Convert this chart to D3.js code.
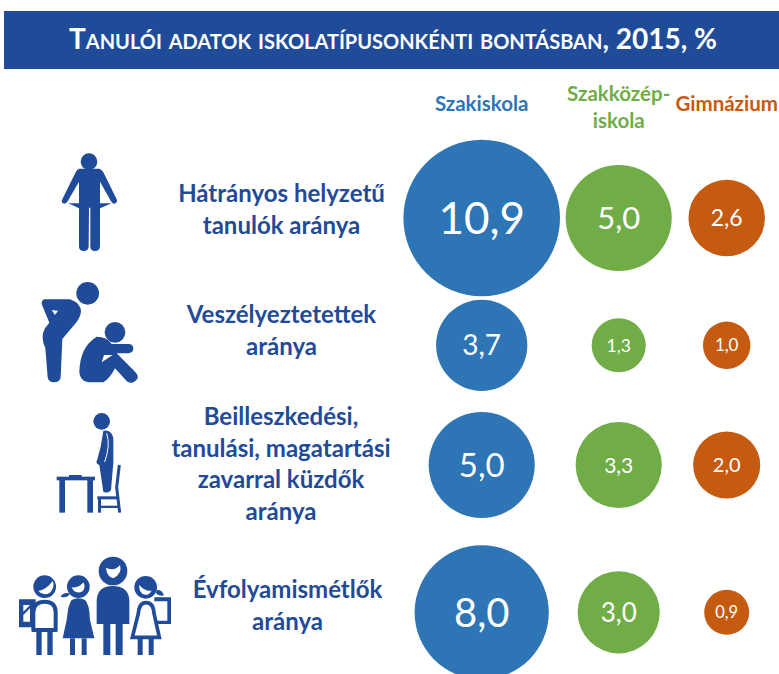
<!DOCTYPE html>
<html lang="hu">
<head>
    <meta charset="UTF-8">
    <title>Tanulói adatok</title>
    <style>
        body{ margin:0; background:#fff;}
        svg{ display:block;}
        text{ font-family:Lato, "Open Sans", sans-serif;}
    </style>
</head>
<body>
<script src="https://d3js.org/d3.v7.min.js"></script>
<script>

var titleText = "Tanulói adatok iskolatípusonkénti bontásban, 2015, %";
var schools = ["Szakiskola", "Szakközépiskola", "Gimnázium"];
var rows = ["hatranyos", "veszelyeztetett", "zavar", "evfolyam"];

var szakiskola = [10.9, 3.7, 5.0, 8.0];
var szakkozep = [5.0, 1.3, 3.3, 3.0];
var gimnazium = [2.6, 1.0, 2.0, 0.9];
var seriesValues = [szakiskola, szakkozep, gimnazium];

var schoolLabels = [["Szakiskola"], ["Szakközép-", "iskola"], ["Gimnázium"]];
var rowLabels = [
    ["Hátrányos helyzetű", "tanulók aránya"],
    ["Veszélyeztetettek", "aránya"],
    ["Beilleszkedési,", "tanulási, magatartási", "zavarral küzdők", "aránya"],
    ["Évfolyamismétlők", "aránya"]
];

// font size of each number inside the bubbles, same order as the series
var valueSizes = [[44, 28, 33, 40], [31, 17.5, 21, 26], [23, 17, 20, 16.5]];

var blue = "#1f4b99";

var svg = d3.select("body").append("svg")
        .attr("width", 779)
        .attr("height", 674);

var x = d3.scaleOrdinal().domain(schools).range([481.7, 618.7, 726.7]);
var y = d3.scaleOrdinal().domain(rows).range([218, 345.3, 465, 612.3]);
var r = d3.scaleSqrt().domain([0, 10.9]).range([0, 78.3]);
var color = d3.scaleOrdinal().domain(schools).range(["#2e75b6", "#70ad47", "#c55a11"]);

// title bar
svg.append("rect").attr("x", 4).attr("y", 11).attr("width", 775).attr("height", 58).attr("fill", blue);
svg.append("text")
    .attr("x", 393).attr("y", 49)
    .attr("text-anchor", "middle")
    .attr("fill", "#fff")
    .style("font-size", "28px")
    .style("font-weight", 700)
    .style("font-variant", "small-caps")
    .text(titleText);

// column headers
var headerBase = [111, 101, 111];
schools.forEach(function(s, i){
    svg.append("g").selectAll("text")
        .data(schoolLabels[i])
        .enter().append("text")
        .attr("x", x(s))
        .attr("y", function(d, j){ return headerBase[i] + j * 27; })
        .attr("text-anchor", "middle")
        .attr("fill", color(s))
        .style("font-size", "20.5px")
        .style("font-weight", 700)
        .text(function(d){ return d; });
});

// row labels
var rowBase = [202, 323, 425, 598];
var rowCenter = [281.5, 281.5, 281, 287.5];
rows.forEach(function(row, i){
    svg.append("g").selectAll("text")
        .data(rowLabels[i])
        .enter().append("text")
        .attr("x", rowCenter[i])
        .attr("y", function(d, j){ return rowBase[i] + j * 31.6; })
        .attr("text-anchor", "middle")
        .attr("fill", blue)
        .style("font-size", "24px")
        .style("font-weight", 700)
        .text(function(d){ return d; });
});

// bubbles
schools.forEach(function(s, i){
    var g = svg.append("g").selectAll("g")
        .data(seriesValues[i])
        .enter().append("g")
        .attr("transform", function(d, j){ return "translate(" + x(s) + "," + y(rows[j]) + ")"; });

    g.append("circle")
        .attr("r", function(d){ return r(d); })
        .attr("fill", color(s));

    g.append("text")
        .attr("text-anchor", "middle")
        .attr("dy", "0.36em")
        .attr("fill", "#fff")
        .style("font-size", function(d, j){ return valueSizes[i][j] + "px"; })
        .text(function(d){ return d3.format(".1f")(d).replace(".", ","); });
});

// icons, drawn at 3x and scaled down
function icon(dy){
    return svg.append("g")
        .attr("transform", "translate(0," + dy + ") scale(" + (1 / 3) + ")")
        .attr("fill", blue);
}
function shape(g, d){
    return g.append("path").attr("d", d).attr("fill-rule", "evenodd");
}
function line(g, d, w){
    return g.append("path").attr("d", d)
        .attr("fill", "none").attr("stroke", blue).attr("stroke-width", w);
}
function head(g, cx, cy, rad){
    g.append("circle").attr("cx", cx).attr("cy", cy).attr("r", rad);
}
function face(g, d){
    g.append("path").attr("d", d).attr("fill", "#fff");
}

// man with empty pockets
var i1 = icon(140);
head(i1, 267, 65, 25);
shape(i1, "M238,86 L298,86 Q305,88 310,97 L350,178 Q354,188 343,191 Q337,192 333,184 L300,125 L300,190 L335,190 L300,205 L300,320 Q298,333 285,333 Q272,333 271,320 L271,203 L267,203 L266,320 Q264,333 251,333 Q238,333 237,320 L237,205 L205,190 L237,190 L237,125 L203,184 Q198,192 192,191 Q182,188 187,178 L227,97 Q231,88 238,86 Z");

// bending adult and sitting child
var i2 = icon(140);
head(i2, 263, 460, 34);
shape(i2, "M135,478 L210,478 Q243,490 243,515 Q240,535 225,552 L187,597 L182,712 Q180,727 162,727 Q145,727 143,712 L136,625 Q120,590 135,565 L148,548 L125,492 Q125,478 135,478 Z M155,510 L174,512 L165,525 Z");
head(i2, 345, 577, 31);
shape(i2, "M290,590 Q240,620 238,695 Q240,727 275,727 L310,727 Q330,715 345,685 L382,725 Q400,735 413,715 Q415,705 405,695 L350,640 L385,640 Q400,637 400,626 Q400,612 385,612 L335,612 Q320,590 290,590 Z M305,667 L338,645 L312,645 Z");

// child standing on a chair
var i3 = icon(400);
head(i3, 305, 64, 25);
shape(i3, "M310,92 Q335,88 340,115 L340,190 Q338,210 333,270 Q325,282 310,275 L298,195 L292,192 Q287,185 292,178 L302,140 Z");
line(i3, "M320,100 Q332,135 314,186", 3).attr("stroke", "#fff");
i3.append("rect").attr("x", 170).attr("y", 230).attr("width", 115).attr("height", 11);
i3.append("rect").attr("x", 207).attr("y", 225).attr("width", 38).attr("height", 6);
i3.append("rect").attr("x", 178).attr("y", 240).attr("width", 17).attr("height", 98);
i3.append("rect").attr("x", 262).attr("y", 240).attr("width", 17).attr("height", 98);
line(i3, "M358,195 L350,262 L359,338", 9);
i3.append("rect").attr("x", 292).attr("y", 289).attr("width", 60).attr("height", 9);
i3.append("rect").attr("x", 294).attr("y", 296).attr("width", 9).attr("height", 42);
i3.append("rect").attr("x", 298).attr("y", 317).attr("width", 56).attr("height", 7);

// family, two schoolchildren with backpacks
var i4 = icon(400);
head(i4, 339, 513, 43);
face(i4, "M318,503 Q345,515 360,495 Q368,520 340,535 Q320,530 318,503 Z");
shape(i4, "M290,672 L290,605 Q290,558 338,558 Q388,558 388,605 L388,672 L368,672 L368,765 L347,765 L347,672 L331,672 L331,765 L310,765 L310,672 Z");

head(i4, 134, 560, 34);
face(i4, "M115,573 Q140,568 158,543 Q166,560 150,578 Q130,590 115,573 Z");
shape(i4, "M57,598 L107,598 L107,682 L57,682 Z M70,615 L90,615 L70,635 Z M70,645 L90,625 L90,665 L70,665 Z");
face(i4, "M105,690 L105,635 Q107,611 134,611 Q160,611 161,635 L161,690 Z");
line(i4, "M100,692 L100,635 Q102,605 134,605 Q166,605 167,635 L167,692 M95,690 L172,690", 12);
i4.append("rect").attr("x", 109).attr("y", 690).attr("width", 16).attr("height", 75);
i4.append("rect").attr("x", 142).attr("y", 690).attr("width", 16).attr("height", 75);

head(i4, 235, 560, 34);
face(i4, "M215,562 Q238,565 250,547 Q258,562 248,574 Q225,585 215,562 Z");
shape(i4, "M208,580 Q190,575 182,590 Q198,595 208,585 Z");
shape(i4, "M215,600 Q235,590 255,600 Q268,610 270,660 L283,715 L188,715 L200,660 Q205,610 215,600 Z");
i4.append("rect").attr("x", 210).attr("y", 715).attr("width", 15).attr("height", 50);
i4.append("rect").attr("x", 245).attr("y", 715).attr("width", 15).attr("height", 50);

head(i4, 437, 562, 34);
face(i4, "M418,555 Q435,575 455,572 Q445,590 428,582 Q415,570 418,555 Z");
shape(i4, "M470,570 Q485,568 492,586 Q478,590 468,580 Z");
shape(i4, "M463,592 L513,592 L513,672 L470,672 L470,662 L502,662 L502,604 L463,604 Z");
line(i4, "M415,640 Q418,608 438,608 Q460,608 462,640 L478,712 L397,712 Z", 11).attr("stroke-linejoin", "miter");
i4.append("rect").attr("x", 413).attr("y", 712).attr("width", 15).attr("height", 53);
i4.append("rect").attr("x", 446).attr("y", 712).attr("width", 15).attr("height", 53);

</script>
</body>
</html>
